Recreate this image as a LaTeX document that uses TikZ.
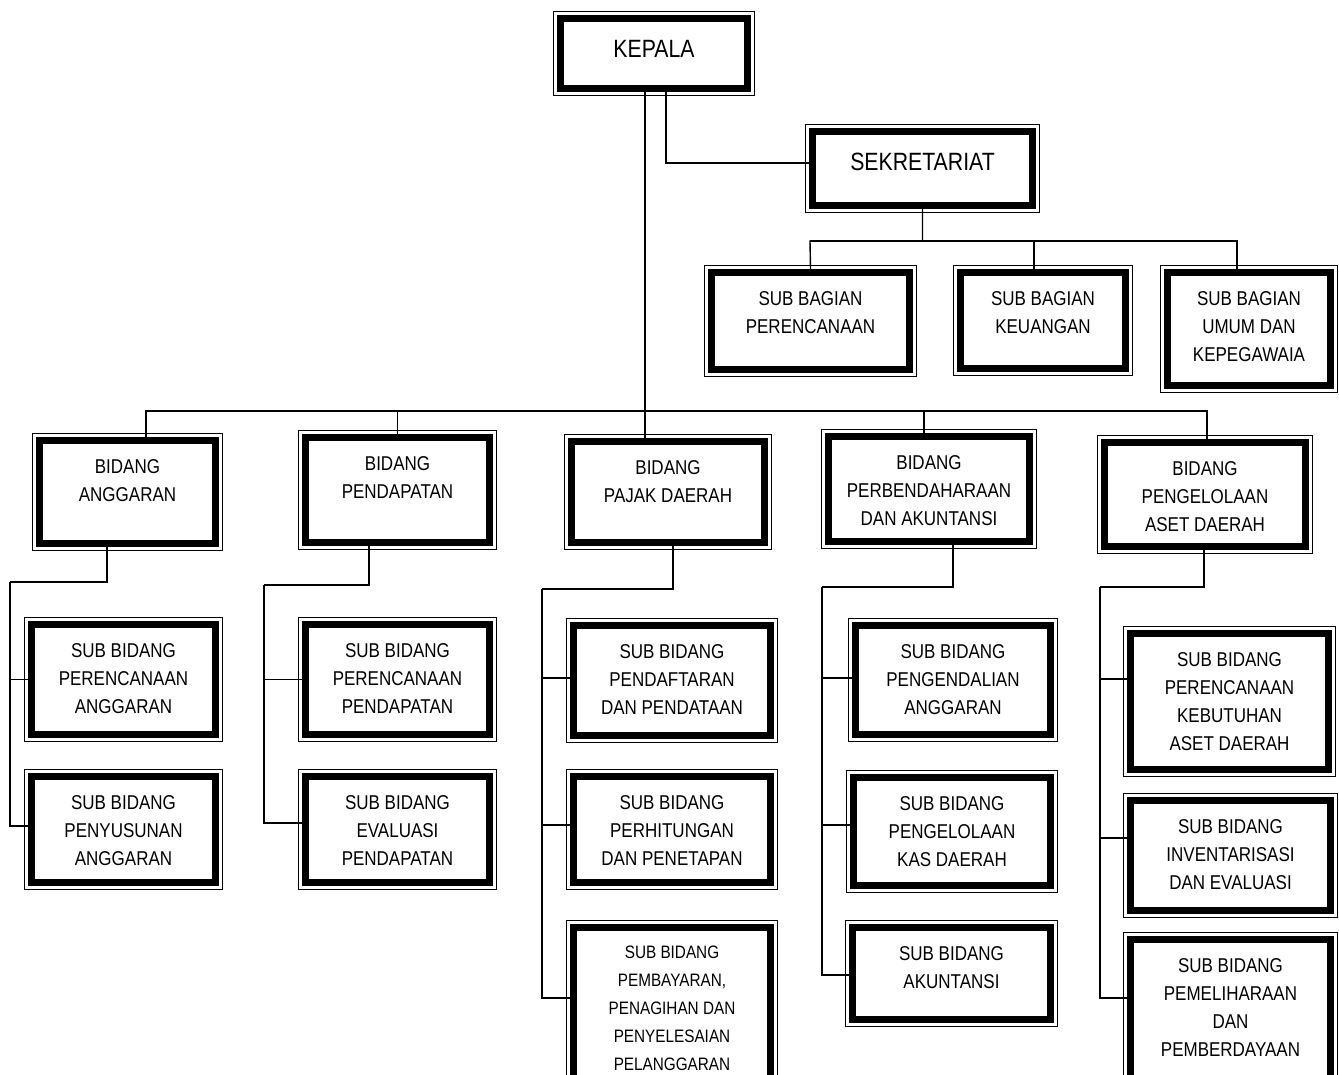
\documentclass[tikz,border=0pt]{standalone}
\usepackage{fontspec}
\setmainfont{Liberation Sans}[FakeStretch=0.85]

\newlength{\pxu}\setlength{\pxu}{0.5pt}
\newlength{\topgap}
\newcommand{\blk}[3]{\parbox[c][#2\pxu][t]{#1\pxu}{\centering\rule{0pt}{\topgap}#3}}

\tikzset{
  unit/.style={draw, line width=3.5pt, inner sep=0pt,
    font=\fontsize{10}{14}\selectfont\setlength{\topgap}{16.5pt}},
  head/.style={unit, font=\fontsize{12.5}{15}\selectfont\setlength{\topgap}{19.5pt}},
  smallunit/.style={unit, font=\fontsize{9}{14}\selectfont\setlength{\topgap}{15.5pt}},
  frame/.style={line width=0.6pt},
  link/.style={line width=0.7pt}
}

\begin{document}
\begin{tikzpicture}[x=0.5pt, y=-0.5pt]

  \useasboundingbox (0,0) rectangle (1339,1075);

  \node[head] (kepala) at (654,53.5) {\blk{187}{70}{KEPALA}};
  \node[head] (sekre) at (922.5,168.5) {\blk{220}{74}{SEKRETARIAT}};

  \node[unit] (sbPeren) at (810.5,321) {\blk{198}{97}{SUB BAGIAN\\PERENCANAAN}};
  \node[unit] (sbKeu) at (1043,320.5) {\blk{165}{96}{SUB BAGIAN\\KEUANGAN}};
  \node[unit] (sbUmum) at (1249,329) {\blk{163}{113}{SUB BAGIAN\\UMUM DAN\\KEPEGAWAIA}};

  \node[unit] (bAngg) at (127.5,492) {\blk{176}{103}{BIDANG\\ANGGARAN}};
  \node[unit] (bPend) at (397.5,490) {\blk{184}{105}{BIDANG\\PENDAPATAN}};
  \node[unit] (bPajak) at (668,492) {\blk{193}{101}{BIDANG\\PAJAK DAERAH}};
  \node[unit] (bBend) at (929,489) {\blk{201}{105}{BIDANG\\PERBENDAHARAAN\\DAN AKUNTANSI}};
  \node[unit] (bAset) at (1205,494.5) {\blk{201}{104}{BIDANG\\PENGELOLAAN\\ASET DAERAH}};

  \node[unit] (sAngg1) at (123.5,679.5) {\blk{184}{110}{SUB BIDANG\\PERENCANAAN\\ANGGARAN}};
  \node[unit] (sAngg2) at (123.5,829.5) {\blk{184}{106}{SUB BIDANG\\PENYUSUNAN\\ANGGARAN}};

  \node[unit] (sPend1) at (397.5,679.5) {\blk{184}{110}{SUB BIDANG\\PERENCANAAN\\PENDAPATAN}};
  \node[unit] (sPend2) at (397.5,829.5) {\blk{184}{106}{SUB BIDANG\\EVALUASI\\PENDAPATAN}};

  \node[unit] (sPajak1) at (672,680.5) {\blk{197}{110}{SUB BIDANG\\PENDAFTARAN\\DAN PENDATAAN}};
  \node[unit] (sPajak2) at (672,829.5) {\blk{197}{106}{SUB BIDANG\\PERHITUNGAN\\DAN PENETAPAN}};
  \node[smallunit] (sPajak3) at (672,1005) {\blk{197}{155}{SUB BIDANG\\PEMBAYARAN,\\PENAGIHAN DAN\\PENYELESAIAN\\PELANGGARAN}};

  \node[unit] (sBend1) at (953,680) {\blk{195}{109}{SUB BIDANG\\PENGENDALIAN\\ANGGARAN}};
  \node[unit] (sBend2) at (952,831.5) {\blk{197}{108}{SUB BIDANG\\PENGELOLAAN\\KAS DAERAH}};
  \node[unit] (sBend3) at (951.5,973.5) {\blk{198}{92}{SUB BIDANG\\AKUNTANSI}};

  \node[unit] (sAset1) at (1229.5,701.5) {\blk{198}{136}{SUB BIDANG\\PERENCANAAN\\KEBUTUHAN\\ASET DAERAH}};
  \node[unit] (sAset2) at (1230.5,855.5) {\blk{200}{110}{SUB BIDANG\\INVENTARISASI\\DAN EVALUASI}};
  \node[unit] (sAset3) at (1230.5,1011) {\blk{200}{143}{SUB BIDANG\\PEMELIHARAAN\\DAN\\PEMBERDAYAAN}};

  % thin outer frame
  \foreach \n in {kepala,sekre,sbPeren,sbKeu,sbUmum,bAngg,bPend,bPajak,bBend,bAset,
      sAngg1,sAngg2,sPend1,sPend2,sPajak1,sPajak2,sPajak3,sBend1,sBend2,sBend3,
      sAset1,sAset2,sAset3}
    \draw[frame] ([shift={(-1.75pt,1.75pt)}]\n.north west) rectangle ([shift={(1.75pt,-1.75pt)}]\n.south east);

  \coordinate (busS) at (810,241);
  \coordinate (busR) at (1207,411);
  \coordinate (tA) at (10,582);
  \coordinate (tB) at (264,585);
  \coordinate (tC) at (542,589);
  \coordinate (tD) at (822,587);
  \coordinate (tE) at (1100,587);

  \draw[link] ([xshift=-4.5pt]kepala.south) -- ([xshift=-11.5pt]bPajak.north);
  \draw[link] ([xshift=6pt]kepala.south) |- ([yshift=2.75pt]sekre.west);

  \draw[link] (sekre.south) |- (busS) -- (sbPeren.north);
  \draw[link] ([xshift=-4.5pt]sbKeu.north) |- (busS);
  \draw[link] ([xshift=-6pt]sbUmum.north) |- (busS);

  \draw[link] ([xshift=9.25pt]bAngg.north) |- (busR) -- (busR |- bAset.north);
  \draw[link] (bPend.north) |- (busR);
  \draw[link] ([xshift=-2.5pt]bBend.north) |- (busR);

  \foreach \b/\dx/\t in {bAngg/-10.25/tA, bPend/-14.25/tB, bPajak/2.5/tC,
      bBend/12/tD, bAset/-0.5/tE}
    \draw[link] ([xshift=\dx pt]\b.south) |- (\t);

  \foreach \s/\dy/\t in {sAngg1/0/tA, sAngg2/1.75/tA, sPend1/0/tB, sPend2/3.25/tB,
      sPajak1/1.25/tC, sPajak2/2.25/tC, sPajak3/3.5/tC,
      sBend1/1/tD, sBend2/3.25/tD, sBend3/-0.75/tD,
      sAset1/11.25/tE, sAset2/8.75/tE, sAset3/6.5/tE}
    \draw[link] ([yshift=\dy pt]\s.west) -| (\t);

\end{tikzpicture}
\end{document}
